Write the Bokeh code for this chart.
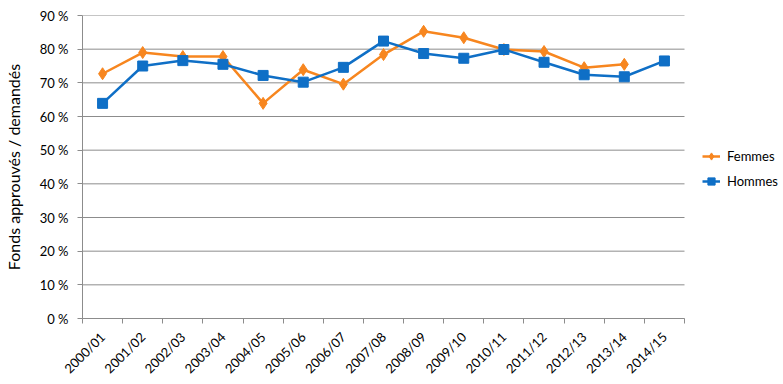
import math
from bokeh.plotting import figure
from bokeh.models import FixedTicker, Range1d, Legend, LegendItem
from bokeh.embed import file_html
from bokeh.resources import INLINE

categories = ["2000/01", "2001/02", "2002/03", "2003/04", "2004/05", "2005/06",
              "2006/07", "2007/08", "2008/09", "2009/10", "2010/11", "2011/12",
              "2012/13", "2013/14", "2014/15"]
femmes = [72.7, 79.0, 77.8, 77.8, 63.9, 73.9, 69.6, 78.4, 85.3, 83.4, 79.9, 79.3, 74.5, 75.5]
hommes = [63.9, 75.0, 76.6, 75.5, 72.2, 70.2, 74.6, 82.4, 78.7, 77.3, 79.9, 76.1, 72.4, 71.8, 76.5]
y_ticks = [0, 10, 20, 30, 40, 50, 60, 70, 80, 90]

FONT = "Lato"
ORANGE = "#F7861F"
BLUE = "#0F6FC6"
GRID = "#8C8C8C"

W, H = 783, 384
LEFT, TOP, BOTTOM = 82, 15, 65
PLOT_W = 602  # width of the category area in px
n = len(categories)
frame_w = W - LEFT
x_end = -0.5 + n * frame_w / PLOT_W

p = figure(width=W, height=H, output_backend="svg", toolbar_location=None,
           x_range=Range1d(-0.5, x_end), y_range=Range1d(0, 90),
           min_border_left=LEFT, min_border_right=0, min_border_top=TOP, min_border_bottom=BOTTOM)
p.outline_line_color = None
p.background_fill_color = "white"
p.xgrid.grid_line_color = None
p.ygrid.grid_line_color = None

# horizontal gridlines limited to the category area
p.segment(x0=[-0.5] * len(y_ticks), x1=[n - 0.5] * len(y_ticks), y0=y_ticks, y1=y_ticks,
          line_color=GRID, line_width=1)

xs = list(range(n))
lf = p.line(xs[:len(femmes)], femmes, line_color=ORANGE, line_width=2.5)
mf = p.scatter(xs[:len(femmes)], femmes, marker="diamond", size=12, fill_color=ORANGE, line_color=ORANGE)
lh = p.line(xs, hommes, line_color=BLUE, line_width=2.5)
mh = p.scatter(xs, hommes, marker="square", size=10, fill_color=BLUE, line_color=BLUE)

# x axis
p.xaxis.bounds = (-0.5, n - 0.5)
p.xaxis.ticker = FixedTicker(ticks=xs, minor_ticks=[i - 0.5 for i in range(n + 1)])
p.xaxis.major_label_overrides = {i: c for i, c in enumerate(categories)}
p.xaxis.major_tick_line_color = None
p.xaxis.major_tick_out = 0
p.xaxis.major_tick_in = 0
p.xaxis.minor_tick_line_color = GRID
p.xaxis.minor_tick_out = 5
p.xaxis.minor_tick_in = 0
p.xaxis.axis_line_color = GRID
p.xaxis.major_label_orientation = math.pi / 4
p.xaxis.major_label_text_font = FONT
p.xaxis.major_label_text_font_size = "13px"
p.xaxis.major_label_text_color = "#000000"
p.xaxis.major_label_standoff = 11

# y axis
p.yaxis.ticker = FixedTicker(ticks=y_ticks, minor_ticks=[])
p.yaxis.major_label_overrides = {v: f"{v} %" for v in y_ticks}
p.yaxis.major_tick_line_color = GRID
p.yaxis.major_tick_out = 5
p.yaxis.major_tick_in = 0
p.yaxis.axis_line_color = GRID
p.yaxis.major_label_text_font = FONT
p.yaxis.major_label_text_font_size = "13px"
p.yaxis.major_label_text_color = "#000000"
p.yaxis.major_label_standoff = 9
p.yaxis.axis_label = "Fonds approuvés / demandés"
p.yaxis.axis_label_text_font = FONT
p.yaxis.axis_label_text_font_size = "16px"
p.yaxis.axis_label_text_font_style = "normal"
p.yaxis.axis_label_text_color = "#000000"
p.yaxis.axis_label_standoff = 14

legend = Legend(items=[LegendItem(label="Femmes", renderers=[lf, mf]),
                       LegendItem(label="Hommes", renderers=[lh, mh])],
                location=(620, 127))
legend.border_line_color = None
legend.background_fill_alpha = 0
legend.margin = 0
legend.padding = 0
legend.spacing = 5
legend.glyph_width = 18
legend.glyph_height = 20
legend.label_standoff = 7
legend.label_text_font = FONT
legend.label_text_font_size = "13px"
legend.label_text_color = "#000000"
p.add_layout(legend, "center")

open("out.html", "w").write(file_html(p, INLINE))
